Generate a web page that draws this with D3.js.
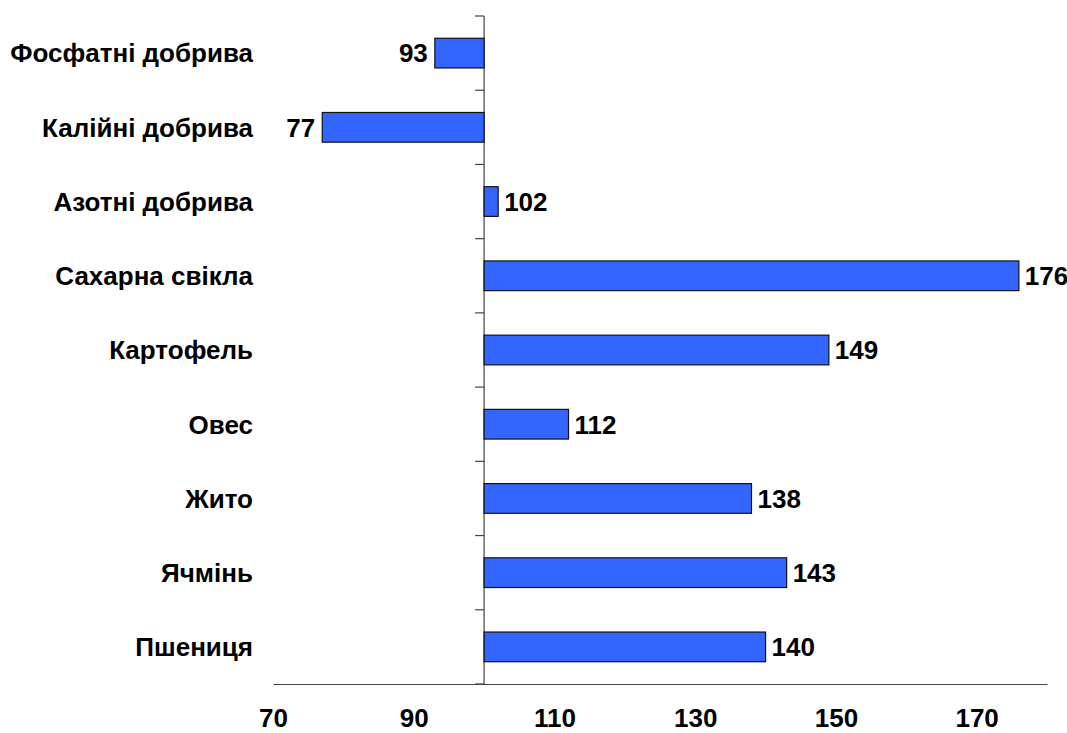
<!DOCTYPE html>
<html>
<head>
<meta charset="utf-8">
<script src="https://cdn.jsdelivr.net/npm/d3@7"></script>
<style>
	body { margin: 0; background: #fff; }
	text { font-family: "Liberation Sans", Arial, sans-serif; font-weight: bold; }
</style>
</head>
<body>
<script>
const categories = ["Фосфатні добрива", "Калійні добрива", "Азотні добрива", "Сахарна свікла",
	"Картофель", "Овес", "Жито", "Ячмінь", "Пшениця"];
const values = [93, 77, 102, 176, 149, 112, 138, 143, 140];
const xTicks = [70, 90, 110, 130, 150, 170];
const baseValue = 100;

var width = 1067, height = 733;
var fontSize = 26;

var svg = d3.select("body").append("svg")
	.attr("width", width)
	.attr("height", height);

var x = d3.scaleLinear()
	.domain([70, 180])
	.range([273, 1047]);

var y = d3.scaleBand()
	.domain(categories)
	.range([16, 684])
	.paddingInner(0.6)
	.paddingOuter(0.3);

// x axis: plain line, labels only
var xAxis = svg.append("g")
	.attr("transform", "translate(0,684)")
	.call(d3.axisBottom(x).tickValues(xTicks).tickSize(0).tickPadding(25));
xAxis.select(".domain").attr("stroke", "#444").attr("stroke-width", 1.2);
xAxis.selectAll("text")
	.attr("font-size", fontSize)
	.attr("fill", "#000")
	.style("font-family", "'Liberation Sans', Arial, sans-serif")
	.style("font-weight", "bold");

// vertical axis at the base value, ticks between categories
var step = y.step();
var y0 = y.range()[0];
svg.append("line")
	.attr("x1", x(baseValue)).attr("x2", x(baseValue))
	.attr("y1", y0).attr("y2", y.range()[1])
	.attr("stroke", "#444").attr("stroke-width", 1.2);
svg.selectAll(".ytick")
	.data(d3.range(categories.length + 1))
	.enter().append("line")
		.attr("class", "ytick")
		.attr("x1", x(baseValue) - 9).attr("x2", x(baseValue))
		.attr("y1", i => y0 + i * step).attr("y2", i => y0 + i * step)
		.attr("stroke", "#444").attr("stroke-width", 1.2);

// category labels
svg.selectAll(".cat")
	.data(categories)
	.enter().append("text")
		.attr("class", "cat")
		.attr("x", 253)
		.attr("y", d => y(d) + y.bandwidth() / 2)
		.attr("dy", "0.36em")
		.attr("text-anchor", "end")
		.attr("font-size", fontSize)
		.text(d => d);

// bars
svg.selectAll(".bar")
	.data(values)
	.enter().append("rect")
		.attr("class", "bar")
		.attr("x", d => x(Math.min(d, baseValue)))
		.attr("width", d => Math.abs(x(d) - x(baseValue)))
		.attr("y", (d, i) => y(categories[i]))
		.attr("height", y.bandwidth())
		.attr("fill", "#3366ff")
		.attr("stroke", "#111")
		.attr("stroke-width", 1.2);

// value labels
svg.selectAll(".val")
	.data(values)
	.enter().append("text")
		.attr("class", "val")
		.attr("x", d => d >= baseValue ? x(d) + 6 : x(d) - 7)
		.attr("y", (d, i) => y(categories[i]) + y.bandwidth() / 2)
		.attr("dy", "0.36em")
		.attr("text-anchor", d => d >= baseValue ? "start" : "end")
		.attr("font-size", fontSize)
		.text(d => d);
</script>
</body>
</html>
